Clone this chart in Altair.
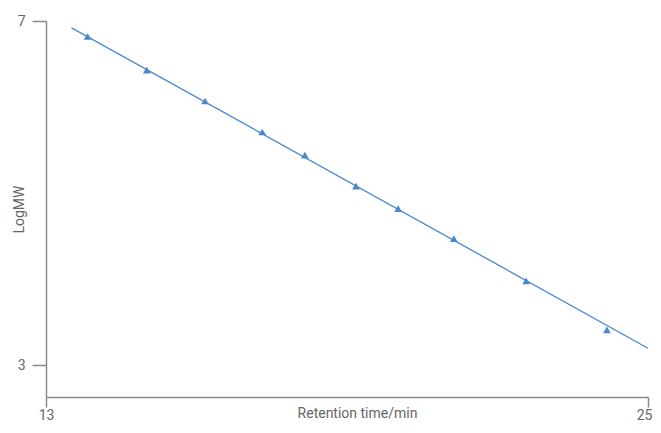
import altair as alt
import pandas as pd

# Calibration points
rt_points = [13.83, 15.01, 16.17, 17.31, 18.16, 19.18, 20.02, 21.13, 22.57, 24.18]
logmw_points = [6.82, 6.43, 6.07, 5.71, 5.44, 5.08, 4.82, 4.47, 3.98, 3.41]

# Fitted line endpoints
rt_fit = [13.51, 25.0]
logmw_fit = [6.92, 3.197]

x_ticks = [13, 25]
y_ticks = [3, 7]

pts = pd.DataFrame({"rt": rt_points, "logmw": logmw_points})
fit = pd.DataFrame({"rt": rt_fit, "logmw": logmw_fit})

BLUE = "#4a88cc"
FONT = "Roboto"
GREY = "#8a8a8a"
TXT = "#666666"

x_enc = alt.X(
    "rt:Q",
    scale=alt.Scale(domain=[13, 25], nice=False, zero=False),
    axis=alt.Axis(
        values=x_ticks,
        format="d",
        title="Retention time/min",
        grid=False,
        ticks=True,
        tickSize=10,
        tickColor=GREY,
        tickWidth=1.5,
        domainColor=GREY,
        domainWidth=1.5,
        labelPadding=1,
        labelFlush=False,
        labelOffset=alt.ExprRef("datum.value == 25 ? -4 : 0"),
        labelFont=FONT,
        labelColor=TXT,
        labelFontSize=14,
        titleX=311,
        titleY=20,
        titleBaseline="alphabetic",
        titleFontWeight="normal",
        titleFontSize=14,
        titleFont=FONT,
        titleColor=TXT,
    ),
)
y_enc = alt.Y(
    "logmw:Q",
    scale=alt.Scale(domain=[2.63, 7], nice=False, zero=False),
    axis=alt.Axis(
        values=y_ticks,
        format="d",
        title="LogMW",
        grid=False,
        ticks=True,
        tickSize=14,
        tickColor=GREY,
        tickWidth=1.5,
        domainColor=GREY,
        domainWidth=1.5,
        labelPadding=7,
        labelFont=FONT,
        labelColor=TXT,
        labelFontSize=14,
        titleX=-27,
        titleBaseline="middle",
        titleFontWeight="normal",
        titleFontSize=14,
        titleFont=FONT,
        titleColor=TXT,
    ),
)

line = alt.Chart(fit).mark_line(color=BLUE, strokeWidth=1.3).encode(x=x_enc, y=y_enc)
points = alt.Chart(pts).mark_point(
    shape="triangle-up", filled=True, color=BLUE, size=60, opacity=1
).encode(x="rt:Q", y="logmw:Q")

chart = (
    alt.layer(line, points)
    .properties(
        width=602,
        height=376,
        padding={"left": 38, "top": 13, "right": 5, "bottom": 24},
        autosize=alt.AutoSizeParams(type="none"),
    )
    .configure_view(stroke=None)
)

chart.save("out.html", embed_options={"renderer": "svg", "actions": False})
